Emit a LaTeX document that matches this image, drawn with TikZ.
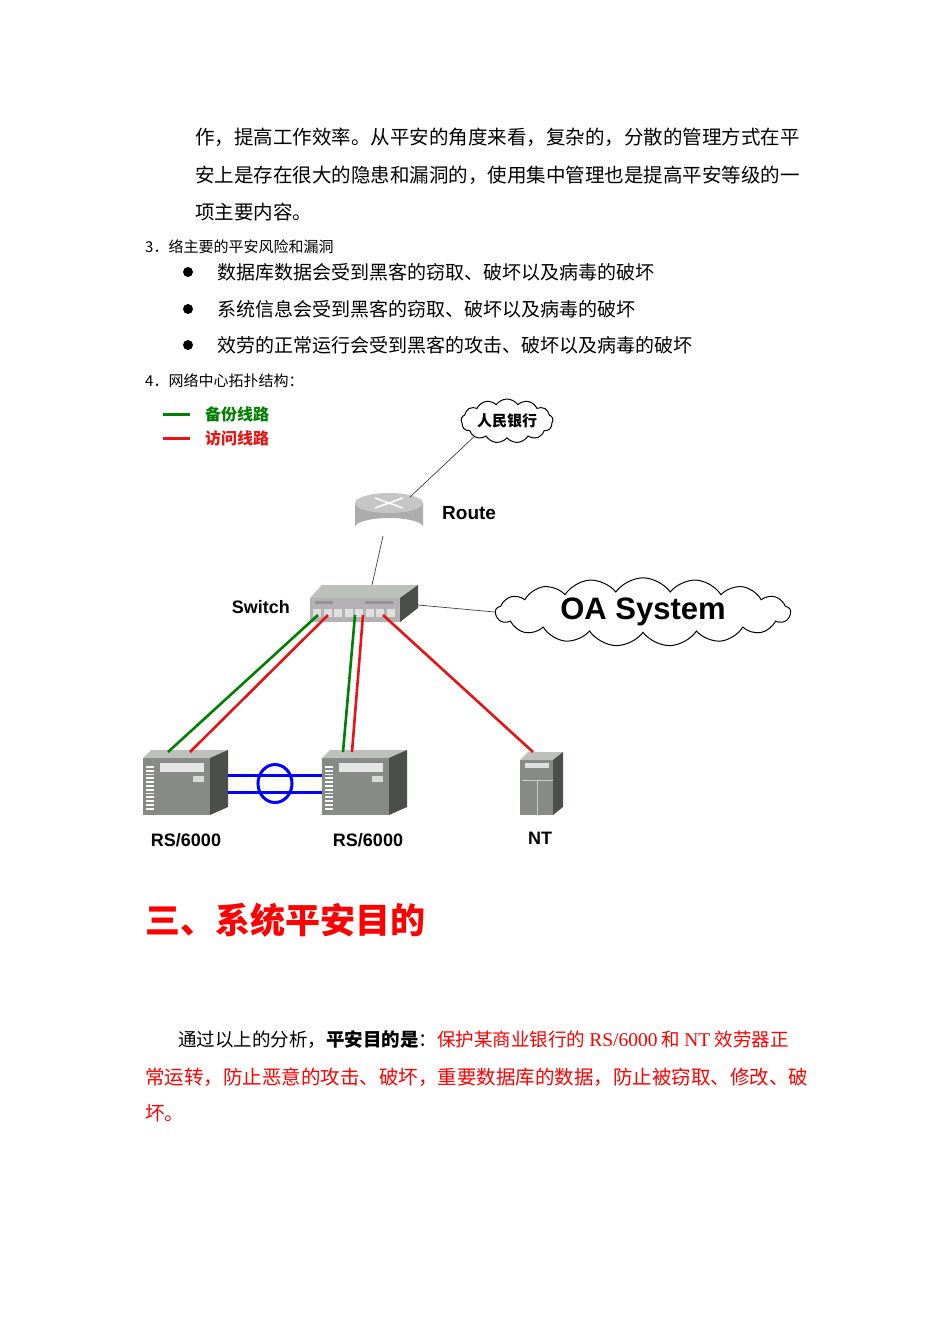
\documentclass[tikz,border=0pt]{standalone}
\usepackage{fontspec}
\setmainfont{Liberation Serif}
\newfontfamily\cjk{Noto Sans CJK SC}
\newfontfamily\arial{Liberation Sans}
\usetikzlibrary{shapes.symbols,shapes.geometric}
\definecolor{lgreen}{RGB}{0,128,0}
\definecolor{lred}{RGB}{230,20,20}
\definecolor{srvfront}{RGB}{135,138,135}
\definecolor{srvside}{RGB}{75,78,75}
\definecolor{srvtop}{RGB}{190,192,190}
\tikzset{
  body/.style={anchor=west,inner sep=0pt,font=\cjk\fontsize{19.5}{20}\selectfont},
  small/.style={anchor=west,inner sep=0pt,font=\cjk\fontsize{15}{16}\selectfont},
  lbl/.style={inner sep=0pt,font=\arial\bfseries\fontsize{18}{18}\selectfont},
  thinl/.style={draw=black!75,line width=0.7pt},
  link/.style={line width=2.6pt},
  cloudy/.style={cloud,cloud puffs=13,cloud puff arc=110,draw,line width=1pt,fill=white,aspect=2.5,inner sep=0pt},
}
\newcommand\srv[6]{% x0 y0 w h name sidewidth
  \fill[srvtop] (#1,#2+8) -- (#1+8,#2) -- (#1+#3+#6,#2) -- (#1+#3,#2+8) -- cycle;
  \fill[srvside] (#1+#3,#2+8) -- (#1+#3+#6,#2) -- (#1+#3+#6,#2+#4-8) -- (#1+#3,#2+#4) -- cycle;
  \fill[srvfront] (#1,#2+8) rectangle (#1+#3,#2+#4);
  \coordinate (#5) at (#1+#3/2,#2);
}
\begin{document}
\begin{tikzpicture}[x=1pt,y=-1pt]
\useasboundingbox (0,0) rectangle (950,1344);
\fill[white] (0,0) rectangle (950,1344);
% text
\node[body] (t1) at (195,137) {作，提高工作效率。从平安的角度来看，复杂的，分散的管理方式在平};
\node[body] (t2) at (195,175) {安上是存在很大的隐患和漏洞的，使用集中管理也是提高平安等级的一};
\node[body] (t3) at (195,212) {项主要内容。};
\node[small] (t4) at (145,247) {3．络主要的平安风险和漏洞};
\foreach \y/\s [count=\i] in {272/数据库数据会受到黑客的窃取、破坏以及病毒的破坏,309/系统信息会受到黑客的窃取、破坏以及病毒的破坏,345/效劳的正常运行会受到黑客的攻击、破坏以及病毒的破坏}{
  \fill (188,\y) circle (5);
  \node[body,font=\cjk\fontsize{19}{20}\selectfont] (b\i) at (217,\y) {\s};
}
\node[small] (t5) at (145,381) {4．网络中心拓扑结构：};
\node[anchor=west,inner sep=0pt,text=red,font=\cjk\bfseries\fontsize{35}{36}\selectfont] (h) at (145,920) {三、系统平安目的};
\node[body,font=\cjk\fontsize{18.5}{20}\selectfont] (p1) at (178,1040) {通过以上的分析，\textbf{平安目的是}：\textcolor{red}{保护某商业银行的 {\rmfamily\fontsize{19.5}{20}\selectfont RS/6000} 和 {\rmfamily\fontsize{19.5}{20}\selectfont NT} 效劳器正}};
\node[body,text=red] (p2) at (145,1077) {常运转，防止恶意的攻击、破坏，重要数据库的数据，防止被窃取、修改、破};
\node[body,text=red] (p3) at (145,1113) {坏。};
% legend
\draw[lgreen,line width=3pt] (163,414) -- (190,414);
\draw[lred,line width=3pt] (163,438) -- (190,438);
\node[anchor=west,inner sep=0pt,text=lgreen,font=\cjk\bfseries\fontsize{16}{16}\selectfont] (lg) at (205,414) {备份线路};
\node[anchor=west,inner sep=0pt,text=lred,font=\cjk\bfseries\fontsize{16}{16}\selectfont] (lr) at (205,438) {访问线路};
% clouds
\node[cloudy,minimum width=92,minimum height=44,font=\cjk\bfseries\fontsize{15}{15}\selectfont] (bank) at (507,421) {人民银行};
\node[cloudy,minimum width=295,minimum height=56,aspect=5,cloud puffs=17,font=\arial\bfseries\fontsize{31}{31}\selectfont] (oa) at (643,612) {OA System};
% router
\fill[gray!65] (355,503) -- (355,527) arc[start angle=180,end angle=360,x radius=34,y radius=9] -- (423,503) -- cycle;
\fill[gray!45] (389,503) ellipse[x radius=34,y radius=10];
\draw[white,line width=1.5pt] (375,498) -- (403,508) (375,508) -- (403,498);
\coordinate (rt) at (410,497);
\coordinate (rb) at (383,536);
\node[lbl,anchor=west,font=\arial\bfseries\fontsize{19}{19}\selectfont] (rl) at (442,513) {Route};
% switch
\fill[srvtop] (310,598) -- (322,585) -- (418,585) -- (400,598) -- cycle;
\fill[srvside] (400,598) -- (418,585) -- (418,608) -- (400,622) -- cycle;
\fill[gray!60] (310,598) rectangle (400,622);
\foreach \i in {0,...,7}{\fill[gray!25] (313+\i*10.5,609) rectangle (321+\i*10.5,617);}
\fill[gray!85] (315,601) rectangle (333,604);
\fill[gray!85] (365,601) rectangle (393,604);
\coordinate (st) at (372,585);
\coordinate (sr) at (418,605);
\node[lbl,anchor=east] (sl) at (290,607) {Switch};
% servers
\srv{143}{750}{67}{65}{s1}{18}
\srv{322}{750}{67}{65}{s2}{18}
\srv{520}{752}{33}{63}{s3}{10}
\foreach \x in {146,325}{
  \foreach \k in {0,...,11}{\fill[white] (\x,766+\k*3.8) rectangle (\x+8,767.8+\k*3.8);}
  \fill[gray!20] (\x+14,763) rectangle (\x+58,772);
  \fill[gray!30] (\x+47,776) rectangle (\x+58,782);
}
\fill[gray!25] (525,763) rectangle (549,768);
\draw[gray!40] (522,780) -- (553,780) (537,780) -- (537,815);
\node[lbl] (n1) at (186,840) {RS/6000};
\node[lbl] (n2) at (368,840) {RS/6000};
\node[lbl] (n3) at (540,838) {NT};
% connectors
\draw[thinl] (rt) -- (bank.south west);
\draw[thinl] (rb) -- (st);
\draw[thinl] (sr) -- (oa.west);
\draw[link,lgreen] (318,615) -- (168,752);
\draw[link,lred] (328,615) -- (190,752);
\draw[link,lgreen] (355,615) -- (343,752);
\draw[link,lred] (363,615) -- (352,752);
\draw[link,lred] (383,615) -- (533,752);
\draw[blue,line width=3pt] (228,775) -- (322,775) (228,792) -- (322,792);
\draw[blue,line width=3pt] (275,783.5) ellipse[x radius=17,y radius=19];
\end{tikzpicture}
\end{document}
